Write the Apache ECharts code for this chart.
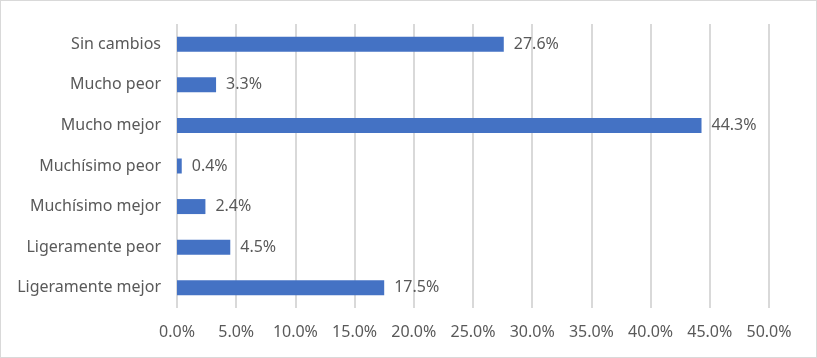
<!DOCTYPE html>
<html>
<head>
<meta charset="utf-8">
<script src="https://cdn.jsdelivr.net/npm/echarts@6/dist/echarts.min.js"></script>
<style>
  html, body { margin: 0; padding: 0; background: #fff; }
  #chart { width: 817px; height: 358px; box-sizing: border-box; border: 1px solid #d9d9d9; }
</style>
</head>
<body>
<div id="chart"></div>
<script>
  // categories listed bottom to top (echarts puts the first one at the bottom)
  var categories = ['Ligeramente mejor', 'Ligeramente peor', 'Muchísimo mejor', 'Muchísimo peor', 'Mucho mejor', 'Mucho peor', 'Sin cambios'];
  var values = [17.5, 4.5, 2.4, 0.4, 44.3, 3.3, 27.6];

  var textColor = '#595959';
  var font = 'Noto Sans';

  var myChart = echarts.init(document.getElementById('chart'));
  myChart.setOption({
    animation: false,
    grid: { left: 176, right: 47, top: 23, bottom: 49 },
    xAxis: {
      type: 'value',
      min: 0,
      max: 50,
      interval: 5,
      axisLine: { show: false },
      axisTick: { show: false },
      axisLabel: {
        color: textColor,
        fontFamily: font,
        fontSize: 16,
        margin: 16,
        formatter: function (v) { return v.toFixed(1) + '%'; }
      },
      splitLine: { lineStyle: { color: '#d9d9d9', width: 2 } }
    },
    yAxis: {
      type: 'category',
      data: categories,
      axisLine: { show: false },
      axisTick: { show: false },
      axisLabel: { color: textColor, fontFamily: font, fontSize: 16, margin: 16 }
    },
    series: [{
      type: 'bar',
      data: values,
      barWidth: 15,
      itemStyle: { color: '#4472C4' },
      label: {
        show: true,
        position: 'right',
        distance: 10,
        color: textColor,
        fontFamily: font,
        fontSize: 16,
        formatter: function (p) { return p.value.toFixed(1) + '%'; }
      }
    }]
  });
</script>
</body>
</html>
